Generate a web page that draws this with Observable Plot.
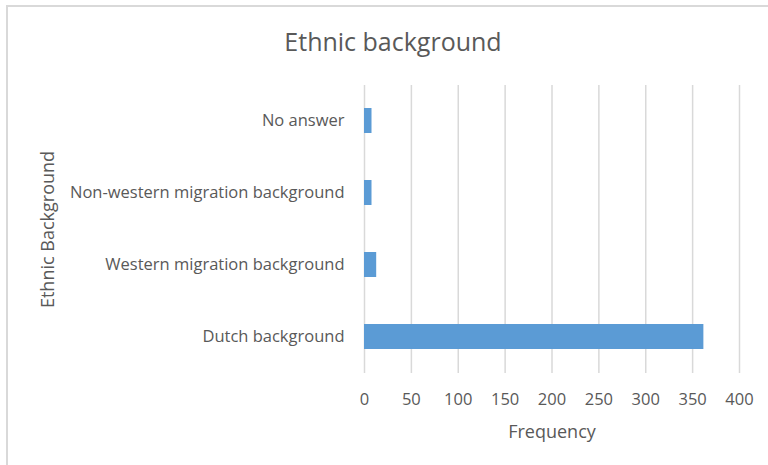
<!DOCTYPE html>
<html>
<head>
<meta charset="utf-8">
<script src="https://cdn.jsdelivr.net/npm/d3@7"></script>
<script src="https://cdn.jsdelivr.net/npm/@observablehq/plot@0.6"></script>
<style>
  html, body { margin: 0; padding: 0; background: #fff; }
  #wrap { position: relative; width: 768px; height: 465px; overflow: hidden; font-family: "Open Sans", sans-serif; color: #595959; }
  #frame { position: absolute; left: 6px; top: 5px; width: 900px; height: 600px; border-left: 2px solid #d9d9d9; border-top: 2px solid #d9d9d9; }
  #title { position: relative; height: 70px; }
  #title span { position: absolute; left: 393px; top: 29px; transform: translateX(-50%); font-size: 25px; line-height: 25px; white-space: nowrap; }
  #chart { position: relative; }
</style>
</head>
<body>
<div id="wrap">
  <div id="frame"></div>
  <div id="title"><span>Ethnic background</span></div>
  <div id="chart"></div>
</div>
<script>
const categories = ["No answer", "Non-western migration background", "Western migration background", "Dutch background"];
const frequencies = [8, 8, 13, 362];
const xTicks = [0, 50, 100, 150, 200, 250, 300, 350, 400];
const xLabel = "Frequency";
const yLabel = "Ethnic Background";

const data = categories.map((c, i) => ({category: c, value: frequencies[i]}));

const chart = Plot.plot({
  width: 768,
  height: 395,
  marginLeft: 364,
  marginRight: 29,
  marginTop: 15,
  marginBottom: 92,
  style: {fontFamily: "Open Sans", fontSize: "16.5px", color: "#595959", background: "transparent", overflow: "visible"},
  x: {domain: [0, 400], ticks: xTicks},
  y: {domain: categories, paddingInner: 0.65, paddingOuter: 0.325},
  marks: [
    Plot.gridX(xTicks, {stroke: "#d9d9d9", strokeOpacity: 1, strokeWidth: 1.5}),
    Plot.barX(data, {x: "value", y: "category", fill: "#5b9bd5"}),
    Plot.axisX({ticks: xTicks, tickSize: 0, tickPadding: 20, label: null, fill: "#595959"}),
    Plot.axisY({tickSize: 0, tickPadding: 20, label: null, fill: "#595959"}),
    Plot.text([xLabel], {frameAnchor: "bottom", dy: 64, lineAnchor: "bottom", textAnchor: "middle", text: d => d, fontSize: 18, fill: "#595959"}),
    Plot.text([yLabel], {frameAnchor: "left", dx: -311, rotate: -90, lineAnchor: "bottom", textAnchor: "middle", text: d => d, fontSize: 18, fill: "#595959"})
  ]
});
document.getElementById("chart").appendChild(chart);
</script>
</body>
</html>
